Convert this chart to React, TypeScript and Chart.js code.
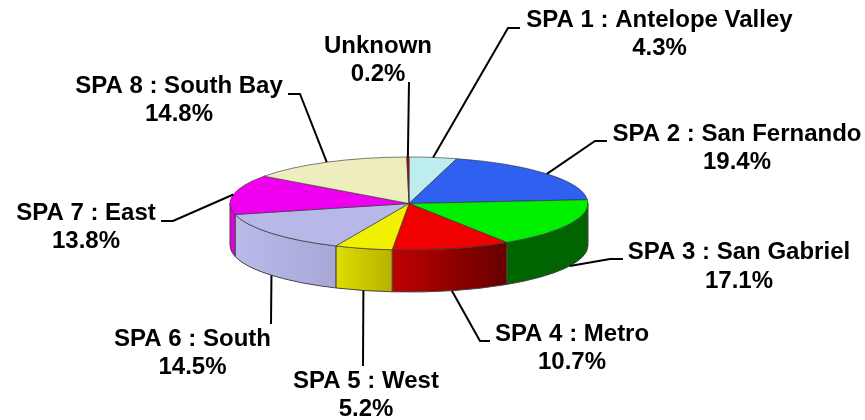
import React, { useEffect, useRef } from "react";
import { Chart, registerables } from "chart.js";

Chart.register(...registerables);

const categories = [
  "SPA 1 : Antelope Valley",
  "SPA 2 : San Fernando",
  "SPA 3 : San Gabriel",
  "SPA 4 : Metro",
  "SPA 5 : West",
  "SPA 6 : South",
  "SPA 7 : East",
  "SPA 8 : South Bay",
  "Unknown",
];
const shares = [4.3, 19.4, 17.1, 10.7, 5.2, 14.5, 13.8, 14.8, 0.2];
const topColors = ["#BDEDED", "#3060F0", "#00F000", "#F00000", "#F0F000", "#B8B8E8", "#F000F0", "#EDEDBD", "#C00000"];
const wallFrom = ["#9ABDBD", "#204090", "#006400", "#C00000", "#DEDE00", "#BABAEA", "#E000E0", "#BDBD90", "#800000"];
const wallTo = ["#9ABDBD", "#204090", "#006400", "#660000", "#B8B000", "#A8A8D8", "#E000E0", "#BDBD90", "#800000"];
// label centre (x, y of first line) and the leader's points after its start on the rim
const labelPos = [
  [659.5, 20], [737, 134], [739, 252.5], [572, 334], [366, 381], [192.5, 339], [86, 213], [179, 86], [378, 46],
];
const leaderBends = [
  [[508, 28], [520, 28]],
  [[595, 141], [607, 141]],
  [[610, 259], [623, 259]],
  [[480, 341], [490, 341]],
  [[363, 366]],
  [[271, 324]],
  [[173, 221], [161, 221]],
  [[300, 94], [288, 94]],
  [[409, 82]],
];

const RY = 46.5;
const DEPTH = 42;
const LINE_GAP = 28.5;

const pie3d = {
  id: "pie3d",
  beforeDatasetsDraw(chart: any) {
    const ctx = chart.ctx;
    const arcs = chart.getDatasetMeta(0).data;
    const { x: cx, y: cy, outerRadius: rx } = arcs[0];
    arcs.forEach((arc: any, i: number) => {
      const a0 = Math.max(arc.startAngle, 0);
      const a1 = Math.min(arc.endAngle, Math.PI);
      if (a1 <= a0) return;
      const xa = cx + rx * Math.cos(a0);
      const xb = cx + rx * Math.cos(a1);
      const g = ctx.createLinearGradient(Math.min(xa, xb), 0, Math.max(xa, xb), 0);
      g.addColorStop(0, wallFrom[i]);
      g.addColorStop(1, wallTo[i]);
      ctx.save();
      ctx.beginPath();
      ctx.ellipse(cx, cy, rx, RY, 0, a0, a1);
      ctx.ellipse(cx, cy + DEPTH, rx, RY, 0, a1, a0, true);
      ctx.closePath();
      ctx.fillStyle = g;
      ctx.fill();
      ctx.strokeStyle = "#444";
      ctx.lineWidth = 1;
      ctx.stroke();
      ctx.restore();
    });
    ctx.save();
    ctx.translate(cx, cy);
    ctx.scale(1, RY / rx);
    ctx.translate(-cx, -cy);
  },
  afterDatasetsDraw(chart: any) {
    const ctx = chart.ctx;
    ctx.restore();
    const arcs = chart.getDatasetMeta(0).data;
    const { x: cx, y: cy, outerRadius: rx } = arcs[0];
    ctx.save();
    arcs.forEach((arc: any, i: number) => {
      const mid = (arc.startAngle + arc.endAngle) / 2;
      const sx = cx + rx * Math.cos(mid);
      const sy = cy + RY * Math.sin(mid) + (Math.sin(mid) > 0 ? DEPTH : 0);
      ctx.beginPath();
      ctx.moveTo(sx, sy);
      leaderBends[i].forEach((p) => ctx.lineTo(p[0], p[1]));
      ctx.strokeStyle = "#000";
      ctx.lineWidth = 2;
      ctx.stroke();
      ctx.fillStyle = "#000";
      ctx.font = 'bold 24px "Liberation Sans", Arial, sans-serif';
      ctx.textAlign = "center";
      ctx.textBaseline = "middle";
      ctx.fillText(categories[i], labelPos[i][0], labelPos[i][1]);
      ctx.fillText(shares[i].toFixed(1) + "%", labelPos[i][0], labelPos[i][1] + LINE_GAP);
    });
    ctx.restore();
  },
};

export default function App() {
  const ref = useRef<HTMLCanvasElement>(null);
  useEffect(() => {
    const chart = new Chart(ref.current!, {
      type: "pie",
      data: {
        labels: categories,
        datasets: [
          {
            data: shares,
            backgroundColor: topColors,
            borderColor: "#333",
            borderWidth: 1,
            clip: false,
          } as any,
        ],
      },
      options: {
        responsive: false,
        animation: false,
        radius: 179,
        layout: { padding: { right: 47, bottom: 13 } },
        plugins: { legend: { display: false }, tooltip: { enabled: false } },
        events: [],
      } as any,
      plugins: [pie3d],
    });
    return () => chart.destroy();
  }, []);
  return (
    <div style={{ position: "absolute", left: 0, top: 0, width: 865, height: 420, background: "#fff" }}>
      <canvas ref={ref} width={865} height={420} style={{ display: "block" }} />
    </div>
  );
}
